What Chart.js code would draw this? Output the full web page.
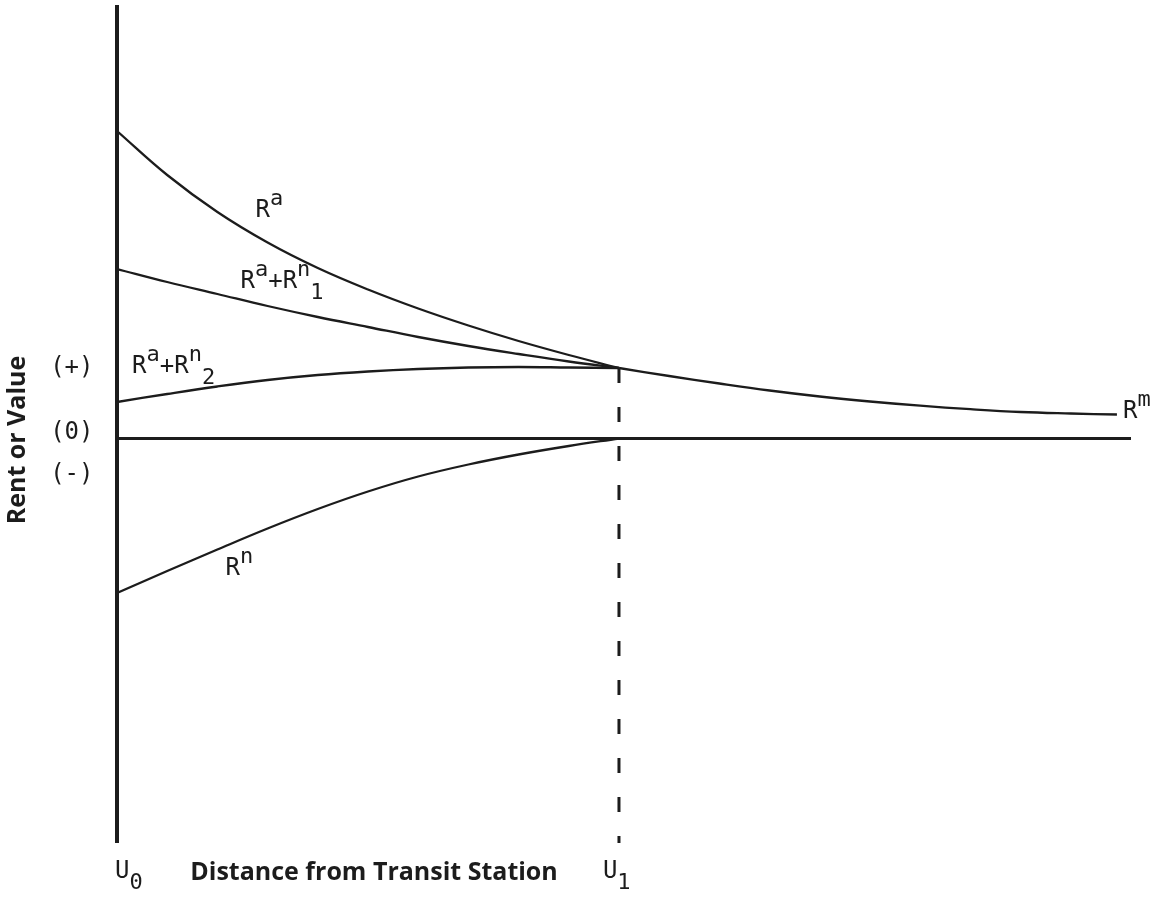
<!DOCTYPE html>
<html>
<head>
<meta charset="utf-8">
<script src="https://cdn.jsdelivr.net/npm/chart.js@4"></script>
<style>
  body { margin: 0; background: #fff; }
  #wrap { width: 1163px; height: 900px; }
</style>
</head>
<body>
<div id="wrap"><canvas id="rentChart" width="1163" height="900"></canvas></div>
<script>
// distance steps (U0 = 0, U1 = 5)
const xNear = [0, 0.5, 1, 1.5, 2, 2.5, 3, 3.5, 4, 4.5, 5];
const xFar = [5, 5.5, 6, 6.5, 7, 7.5, 8, 8.5, 9, 9.5, 9.96];

// rent / value
const rentA = [30.75, 26.35, 22.65, 19.6, 17.05, 14.9, 13.0, 11.3, 9.75, 8.35, 7.05];
const rentAN1 = [16.95, 15.65, 14.45, 13.25, 12.15, 11.15, 10.15, 9.25, 8.45, 7.7, 7.05];
const rentAN2 = [3.65, 4.45, 5.2, 5.85, 6.35, 6.7, 6.95, 7.1, 7.15, 7.1, 7.05];
const rentN = [-15.45, -13.25, -11.1, -9.0, -7.05, -5.3, -3.8, -2.6, -1.6, -0.75, 0];
const rentM = [7.05, 6.25, 5.5, 4.8, 4.2, 3.7, 3.28, 2.93, 2.65, 2.5, 2.4];

// axis ranges
const xMin = 0, xMax = 10.1;
const yMin = -40.45, yMax = 43.35;
const u1 = 5;

const ink = "#1c1c1c";
const mono = "'DejaVu Sans Mono'";

function pts(xs, ys) {
  return xs.map((x, i) => ({ x: x, y: ys[i] }));
}

function curve(data) {
  return {
    data: data,
    borderColor: ink,
    borderWidth: 2.3,
    tension: 0.4,
    pointRadius: 0,
    fill: false,
  };
}

// labels: [parts, x, y] in data units, parts with sup/sub flags
const curveLabels = [
  [[["R"], ["a", "sup"]], 1.38, 22.15],
  [[["R"], ["a", "sup"], ["+R"], ["n", "sup"], ["1", "sub"]], 1.23, 15.05],
  [[["R"], ["a", "sup"], ["+R"], ["n", "sup"], ["2", "sub"]], 0.15, 6.55],
  [[["R"], ["n", "sup"]], 1.08, -13.65],
  [[["R"], ["m", "sup"]], 10.02, 2.05],
  [[["U"], ["0", "sub"]], -0.02, -43.95],
  [[["U"], ["1", "sub"]], 4.84, -43.95],
];
const signLabels = [["(+)", 7.05], ["(0)", 0.55], ["(-)", -3.6]];

const textPlugin = {
  id: "textPlugin",
  afterDraw(chart) {
    const { ctx, scales: { x, y } } = chart;
    ctx.save();
    ctx.fillStyle = ink;
    ctx.textBaseline = "alphabetic";

    curveLabels.forEach(([parts, dx, dy]) => {
      let px = x.getPixelForValue(dx);
      const py = y.getPixelForValue(dy);
      parts.forEach(([t, kind]) => {
        let off = 0;
        if (kind === "sup") { ctx.font = "22px " + mono; off = -12; }
        else if (kind === "sub") { ctx.font = "22px " + mono; off = 11; }
        else ctx.font = "24px " + mono;
        ctx.textAlign = "left";
        ctx.fillText(t, px, py + off);
        px += ctx.measureText(t).width;
      });
    });

    ctx.font = "24px " + mono;
    ctx.textAlign = "center";
    ctx.textBaseline = "middle";
    signLabels.forEach(([t, v]) => {
      ctx.fillText(t, x.getPixelForValue(-0.45), y.getPixelForValue(v));
    });

    // axis titles
    ctx.font = "bold 25px 'Open Sans'";
    ctx.textAlign = "left";
    ctx.textBaseline = "alphabetic";
    ctx.fillText("Distance from Transit Station", x.getPixelForValue(0.73), y.getPixelForValue(-44.15));

    ctx.translate(x.getPixelForValue(-0.99), y.getPixelForValue(-0.15));
    ctx.rotate(-Math.PI / 2);
    ctx.textAlign = "center";
    ctx.textBaseline = "middle";
    ctx.fillText("Rent or Value", 0, 0);
    ctx.restore();
  },
};

function rentChart() {
  const data = {
    datasets: [
      // vertical axis
      {
        data: [{ x: xMin, y: yMin }, { x: xMin, y: yMax }],
        borderColor: ink, borderWidth: 4, pointRadius: 0, clip: false,
      },
      // zero line
      {
        data: [{ x: xMin, y: 0 }, { x: xMax, y: 0 }],
        borderColor: ink, borderWidth: 3, pointRadius: 0, clip: false,
      },
      // U1 marker
      {
        data: [{ x: u1, y: rentA[rentA.length - 1] }, { x: u1, y: yMin }],
        borderColor: ink, borderWidth: 3, borderDash: [15, 24], pointRadius: 0, clip: false,
      },
      curve(pts(xNear, rentA)),
      curve(pts(xNear, rentAN1)),
      curve(pts(xNear, rentAN2)),
      curve(pts(xNear, rentN)),
      curve(pts(xFar, rentM)),
    ],
  };

  const config = {
    type: "line",
    data: data,
    plugins: [textPlugin],
    options: {
      responsive: false,
      animation: false,
      layout: { padding: { left: 117, right: 32, top: 5, bottom: 57 } },
      plugins: { legend: { display: false }, tooltip: { enabled: false } },
      scales: {
        x: { type: "linear", min: xMin, max: xMax, display: false },
        y: { type: "linear", min: yMin, max: yMax, display: false },
      },
    },
  };

  new Chart(document.getElementById("rentChart"), config);
}

rentChart();
</script>
</body>
</html>
